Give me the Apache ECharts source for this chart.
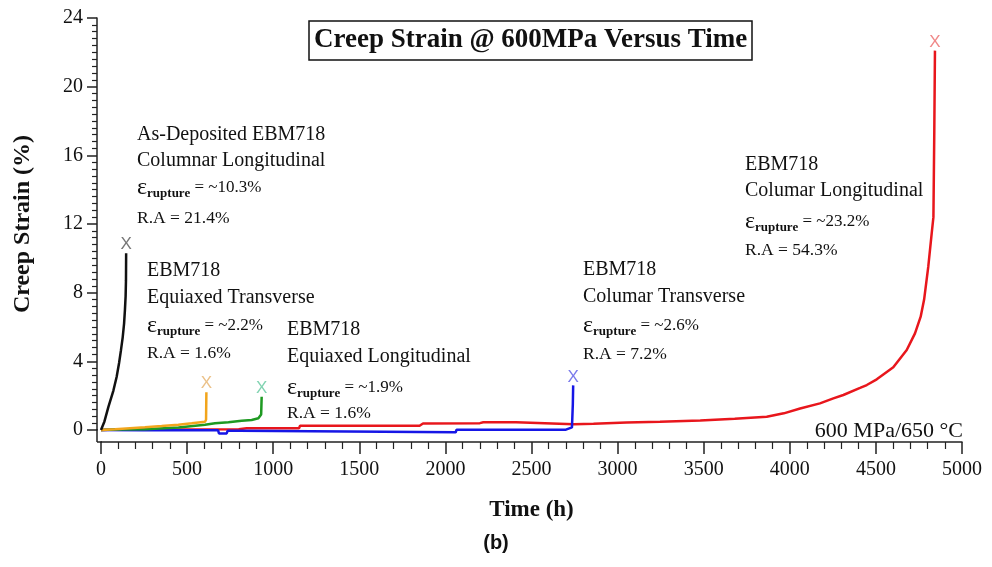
<!DOCTYPE html>
<html>
<head>
<meta charset="utf-8">
<script src="https://cdn.jsdelivr.net/npm/echarts@6/dist/echarts.min.js"></script>
<style>
html,body{margin:0;padding:0;background:#fff;}
#chart{width:992px;height:567px;}
</style>
</head>
<body>
<div id="chart"></div>
<script>
// ---- data (time h, creep strain %) ----
const asDepColLong = [[0,0],[20,0.5],[43,1.35],[72,2.3],[91,3.1],[105,3.9],[116,4.65],[126,5.4],[134,6.2],[139,7.0],[143,7.8],[145,8.7],[146,10.3]];
const eqTrans = [[0,0],[81,0.04],[85,0.12],[255,0.16],[352,0.23],[449,0.31],[527,0.39],[604,0.48],[610,0.6],[612,2.2]];
const eqLong = [[0,0],[80,0.03],[255,0.05],[260,0.12],[450,0.15],[455,0.2],[604,0.3],[662,0.39],[740,0.45],[817,0.54],[875,0.58],[914,0.68],[930,0.9],[933,1.94]];
const colTrans = [[0,0],[250,-0.02],[680,-0.02],[685,-0.2],[730,-0.2],[735,-0.05],[800,-0.05],[805,-0.13],[2060,-0.13],[2065,0.02],[2700,0.02],[2735,0.15],[2740,1.5],[2742,2.6]];
const colLong = [[0,0],[100,0.03],[800,0.05],[846,0.1],[1150,0.1],[1156,0.25],[1850,0.25],[1870,0.38],[2200,0.4],[2220,0.45],[2410,0.45],[2415,0.35],[2745,0.33],[2860,0.36],[3052,0.43],[3246,0.48],[3480,0.55],[3680,0.66],[3866,0.77],[3965,0.97],[4060,1.25],[4175,1.55],[4253,1.84],[4311,2.04],[4408,2.45],[4447,2.62],[4505,2.95],[4601,3.65],[4679,4.66],[4727,5.63],[4760,6.6],[4780,7.6],[4804,9.5],[4824,11.45],[4834,12.4],[4839,17.3],[4843,22.1]];

const seriesNames = ['Columar Longitudinal','Columar Transverse','Equiaxed Longitudinal','Equiaxed Transverse','As-Deposited Columnar Longitudinal'];
const seriesData = [colLong, colTrans, eqLong, eqTrans, asDepColLong];
const lineColors = ['#e8161c','#1616e6','#1e9a22','#f2a51c','#111111'];
const xColors = ['#ec6a6a','#5a5ae6','#62c89e','#e6b26a','#555555'];

const xTicks = {min:0, max:5000, interval:500};
const yTicks = {min:0, max:24, interval:4};

const serif = 'Liberation Serif';

const chart = echarts.init(document.getElementById('chart'), null, {renderer:'canvas'});

const lineSeries = seriesData.map((d,i)=>({
  name: seriesNames[i],
  type:'line',
  data:d,
  showSymbol:false,
  symbol:'none',
  clip:false,
  lineStyle:{color:lineColors[i], width:2.5},
  itemStyle:{color:lineColors[i]},
  z: 2+i,
  animation:false
}));

const ruptureSeries = {
  type:'scatter',
  data: seriesData.map((d,i)=>({
    value: d[d.length-1],
    label:{show:true, formatter:'X', position:'top', distance:-1, color:xColors[i], fontFamily:'Liberation Sans', fontSize:17}
  })),
  symbolSize:2,
  itemStyle:{color:'rgba(0,0,0,0)'},
  clip:false,
  z:10,
  animation:false
};

function annot(x, y, lines, eps, ra){
  const els = [];
  lines.forEach((t, k)=>{
    els.push({type:'text', left:x, top:y[k]-12, style:{text:t, font:'20px "Liberation Serif"', fill:'#111'}});
  });
  els.push({type:'text', left:x, top:y[2]-14, style:{
    text:'{e|ε}{s|rupture}{v| = ~'+eps+'}',
    rich:{
      e:{fontFamily:serif, fontSize:24, fill:'#111', verticalAlign:'bottom'},
      s:{fontFamily:serif, fontSize:13, fontWeight:'bold', fill:'#111', padding:[11,0,0,0]},
      v:{fontFamily:serif, fontSize:17, fill:'#111'}
    }
  }});
  els.push({type:'text', left:x, top:y[3]-10, style:{text:'R.A = '+ra, font:'17.5px "Liberation Serif"', fill:'#111'}});
  return els;
}

const graphics = [].concat(
  annot(137,[137,163,190,219],['As-Deposited EBM718','Columnar Longitudinal'],'10.3%','21.4%'),
  annot(147,[273,300,328,354],['EBM718','Equiaxed Transverse'],'2.2%','1.6%'),
  annot(287,[332,359,390,414],['EBM718','Equiaxed Longitudinal'],'1.9%','1.6%'),
  annot(583,[272,299,328,355],['EBM718','Columar Transverse'],'2.6%','7.2%'),
  annot(745,[167,193,224,251],['EBM718','Columar Longitudinal'],'23.2%','54.3%'),
  [
    {type:'text', right:29, top:420, style:{text:'600 MPa/650 °C', font:'22px "Liberation Serif"', fill:'#111'}},
    {type:'text', left:'center', top:533, style:{text:'(b)', font:'bold 20px "Liberation Sans"', fill:'#111'}},
    {type:'line', shape:{x1:97, y1:429, x2:97, y2:442}, style:{stroke:'#222', lineWidth:1.5}},
    {type:'line', shape:{x1:97, y1:442, x2:102, y2:442}, style:{stroke:'#222', lineWidth:1.5}}
  ]
);

chart.setOption({
  animation:false,
  backgroundColor:'#fff',
  title:{
    text:'Creep Strain @ 600MPa Versus Time',
    left:309, top:21,
    padding:[6,5,6,5],
    borderColor:'#111', borderWidth:1.5,
    textStyle:{fontFamily:serif, fontWeight:'bold', fontSize:27, color:'#111'}
  },
  grid:{left:101, right:30, top:18, bottom:137, containLabel:false},
  xAxis:{
    type:'value', min:xTicks.min, max:xTicks.max, interval:xTicks.interval,
    offset:12,
    name:'Time (h)', nameLocation:'middle', nameGap:57,
    nameTextStyle:{fontFamily:serif, fontSize:23, fontWeight:'bold', color:'#111'},
    axisLine:{show:true, onZero:false, lineStyle:{color:'#222', width:1.5}},
    axisTick:{show:true, length:12, lineStyle:{color:'#222', width:1.5}},
    minorTick:{show:true, splitNumber:5, length:7, lineStyle:{color:'#222', width:1.2}},
    splitLine:{show:false},
    axisLabel:{fontFamily:serif, fontSize:20, color:'#111', margin:18, formatter:(v)=>String(v)}
  },
  yAxis:{
    type:'value', min:yTicks.min, max:yTicks.max, interval:yTicks.interval,
    offset:4,
    name:'Creep Strain (%)', nameLocation:'middle', nameGap:62,
    nameTextStyle:{fontFamily:serif, fontSize:24, fontWeight:'bold', color:'#111'},
    axisLine:{show:true, onZero:false, lineStyle:{color:'#222', width:1.5}},
    axisTick:{show:true, length:10, lineStyle:{color:'#222', width:1.5}},
    minorTick:{show:true, splitNumber:10, length:5, lineStyle:{color:'#222', width:1.2}},
    splitLine:{show:false},
    axisLabel:{fontFamily:serif, fontSize:20, color:'#111', margin:14, formatter:(v)=>String(v)}
  },
  series: lineSeries.concat([ruptureSeries]),
  graphic: graphics
});
</script>
</body>
</html>
